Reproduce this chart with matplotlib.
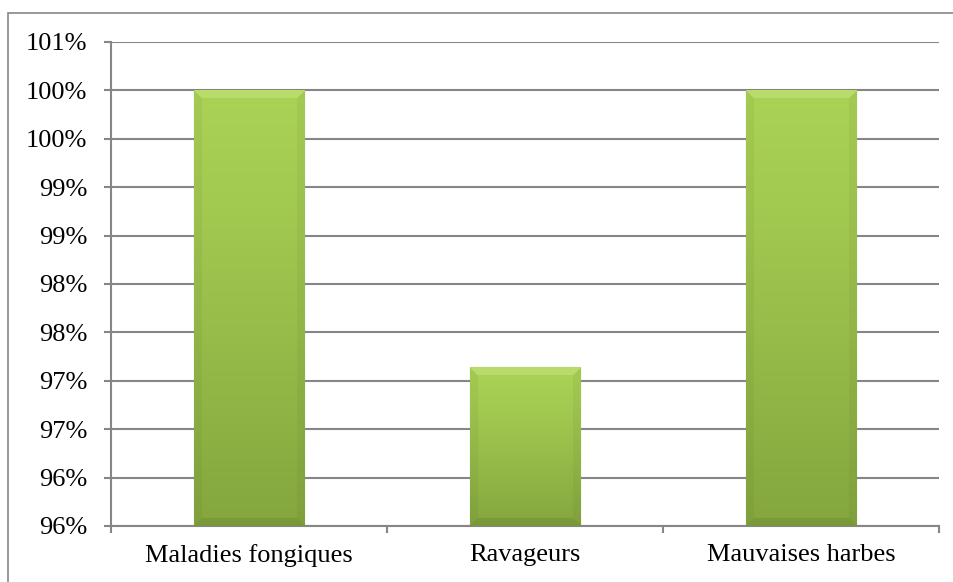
import math

import matplotlib

matplotlib.use("Agg")
import matplotlib.pyplot as plt  # noqa: E402
import numpy as np  # noqa: E402
from matplotlib.patches import Rectangle  # noqa: E402
from matplotlib.ticker import FixedLocator, FuncFormatter  # noqa: E402

categories = ["Maladies fongiques", "Ravageurs", "Mauvaises harbes"]
values = [100.0, 97.14, 100.0]
y_ticks = [95.5, 96.0, 96.5, 97.0, 97.5, 98.0, 98.5, 99.0, 99.5, 100.0, 100.5]

W, H = 954, 582
GRID = "#868686"
TOP_GREEN = np.array([0xAA, 0xD2, 0x55]) / 255
BOTTOM_GREEN = np.array([0x84, 0xA6, 0x3E]) / 255


def pct_label(v, _pos):
    # Excel-style rounding, half up
    return f"{math.floor(v + 0.5):.0f}%"


def shade_bar(ax, patch, bevel=8):
    x0, y0 = patch.get_x(), patch.get_y()
    x1, y1 = x0 + patch.get_width(), y0 + patch.get_height()
    (px0, py0), (px1, py1) = ax.transData.transform([(x0, y0), (x1, y1)])
    nx, ny = max(int(round(px1 - px0)), 2), max(int(round(py1 - py0)), 2)

    t = np.linspace(0, 1, ny)[:, None, None] ** 1.2
    img = TOP_GREEN + (BOTTOM_GREEN - TOP_GREEN) * t
    img = np.repeat(img, nx, axis=1)

    rows = np.arange(ny)[:, None]
    cols = np.arange(nx)[None, :]
    d_top = np.broadcast_to(rows, (ny, nx))
    d_bot = ny - 1 - d_top
    d_left = np.broadcast_to(cols, (ny, nx))
    d_right = nx - 1 - d_left
    dists = np.stack([d_top, d_bot, d_left, d_right])
    nearest = dists.argmin(axis=0)
    inside = dists.min(axis=0) < bevel

    light = np.array([0xC2, 0xE2, 0x7C]) / 255
    top_band = inside & (nearest == 0)
    img[top_band] = img[top_band] * 0.4 + light * 0.6
    img[inside & (nearest == 1)] *= 0.92
    img[inside & (nearest >= 2)] *= 0.96

    im = ax.imshow(img, extent=(x0, x1, y0, y1), aspect="auto",
                   interpolation="bilinear", zorder=3)
    im.set_clip_path(patch)
    patch.set_edgecolor("#6d8536")
    patch.set_linewidth(0.8)


def main() -> None:
    plt.rcParams["font.family"] = ["Liberation Serif", "DejaVu Serif"]

    fig = plt.figure(figsize=(W / 100, H / 100), dpi=100)
    # chart area frame; only its left and top edges fall inside the image
    fig.patches.append(Rectangle((8 / W, -0.1), 1.2, 1.1 - 13 / H,
                                 transform=fig.transFigure, fill=False,
                                 edgecolor=GRID, linewidth=1.2))

    ax = fig.add_axes([111 / W, (H - 526) / H, (939 - 111) / W, (526 - 42) / H])
    x = np.arange(len(categories))
    base = y_ticks[0]
    heights = [v - base for v in values]
    bars = ax.bar(x, heights, width=0.4, bottom=base, color=TOP_GREEN, zorder=3)

    ax.set_xlim(-0.5, len(categories) - 0.5)
    ax.set_ylim(y_ticks[0], y_ticks[-1])

    for patch in bars:
        shade_bar(ax, patch)

    ax.yaxis.set_major_locator(FixedLocator(y_ticks))
    ax.yaxis.set_major_formatter(FuncFormatter(pct_label))
    ax.set_xticks(x)
    ax.set_xticklabels(categories)
    ax.set_xticks(np.arange(len(categories) + 1) - 0.5, minor=True)

    ax.grid(axis="y", color=GRID, linewidth=1.5, zorder=0)
    ax.set_axisbelow(True)
    for side in ("top", "right"):
        ax.spines[side].set_visible(False)
    for side in ("left", "bottom"):
        ax.spines[side].set_color(GRID)
        ax.spines[side].set_linewidth(1.5)

    ax.tick_params(axis="y", direction="out", length=5, width=1.5, color=GRID,
                   pad=12, labelsize=19, labelcolor="black")
    ax.tick_params(axis="x", which="major", length=0, pad=13, labelsize=19,
                   labelcolor="black")
    ax.tick_params(axis="x", which="minor", direction="out", length=5, width=1.5,
                   color=GRID)

    fig.savefig("out.png", dpi=100)
    plt.close(fig)


if __name__ == "__main__":
    main()
